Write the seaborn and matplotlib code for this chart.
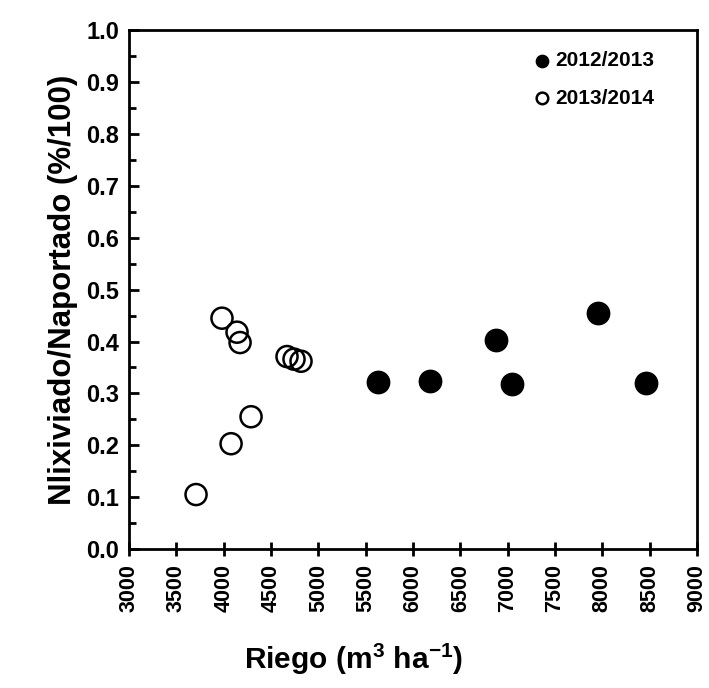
import matplotlib
matplotlib.use("Agg")
import matplotlib.pyplot as plt
import seaborn as sns
import pandas as pd
from matplotlib.ticker import MultipleLocator

sns.set_style("white")
plt.rcParams['font.family'] = ['Liberation Sans', 'DejaVu Sans']
plt.rcParams['font.weight'] = 'bold'
plt.rcParams['text.color'] = 'black'
plt.rcParams['axes.labelcolor'] = 'black'
plt.rcParams['xtick.color'] = 'black'
plt.rcParams['ytick.color'] = 'black'
plt.rcParams['mathtext.fontset'] = 'custom'
plt.rcParams['mathtext.rm'] = 'Liberation Sans'

# Data
riego_1213 = [5630, 6180, 6877, 7046, 7954, 8461]
ratio_1213 = [0.322, 0.324, 0.402, 0.318, 0.455, 0.321]
riego_1314 = [3708, 3982, 4141, 4173, 4078, 4289, 4669, 4743, 4817]
ratio_1314 = [0.105, 0.445, 0.418, 0.398, 0.203, 0.255, 0.371, 0.366, 0.362]
series = ["2012/2013", "2013/2014"]

df = pd.concat([
    pd.DataFrame({"Riego": riego_1213, "Ratio": ratio_1213, "Serie": series[0]}),
    pd.DataFrame({"Riego": riego_1314, "Ratio": ratio_1314, "Serie": series[1]}),
])

fig = plt.figure(figsize=(7.09, 6.88), dpi=100)
ax = fig.add_axes([0.182, 0.202, 0.801, 0.754])

sns.scatterplot(data=df[df.Serie == series[0]], x="Riego", y="Ratio", ax=ax,
                color="black", edgecolor="black", s=260, marker="o",
                label=series[0], linewidth=1)
sns.scatterplot(data=df[df.Serie == series[1]], x="Riego", y="Ratio", ax=ax,
                facecolor="none", edgecolor="black", s=230, marker="o",
                label=series[1], linewidth=1.8)

ax.set_xlim(3000, 9000)
ax.set_ylim(0, 1.0)
ax.xaxis.set_major_locator(MultipleLocator(500))
ax.yaxis.set_major_locator(MultipleLocator(0.1))
ax.yaxis.set_minor_locator(MultipleLocator(0.05))
ax.yaxis.set_major_formatter(plt.FormatStrFormatter('%.1f'))

for sp in ax.spines.values():
    sp.set_linewidth(2)
    sp.set_color('black')

ax.tick_params(axis='x', direction='inout', length=10, width=2, labelsize=15.5,
               labelrotation=90, bottom=True, pad=6)
ax.tick_params(axis='y', which='major', direction='in', length=7, width=2,
               labelsize=17, left=True, pad=7)
ax.tick_params(axis='y', which='minor', direction='in', length=5, width=2, left=True)

ax.set_xlabel("Riego (m$^{3}$ ha$^{-1}$)", fontsize=21.5, fontweight='bold')
ax.xaxis.set_label_coords(0.396, -0.178)
ax.set_ylabel("Nlixiviado/Naportado (%/100)", fontsize=22.5, fontweight='bold',
              labelpad=6)

leg = ax.legend(loc='upper right', frameon=False, fontsize=15, handletextpad=-0.4,
                markerscale=0.55, labelspacing=0.9, borderaxespad=0.9,
                bbox_to_anchor=(0.972, 1.012))
for t in leg.get_texts():
    t.set_fontweight('bold')
    t.set_color('black')

fig.savefig("out.png", dpi=100)
